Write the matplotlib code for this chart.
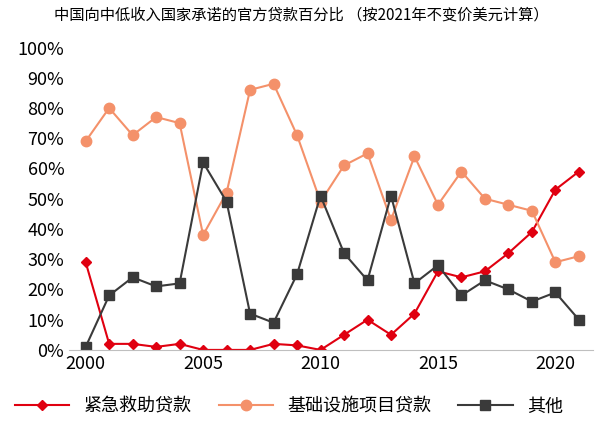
import matplotlib
matplotlib.use('Agg')
import matplotlib.pyplot as plt
from matplotlib.ticker import FuncFormatter

plt.rcParams['font.family'] = ['Noto Sans CJK SC', 'DejaVu Sans']

years = list(range(2000, 2022))
emergency = [29, 2, 2, 1, 2, 0, 0, 0, 2, 1.5, 0, 5, 10, 5, 12, 26, 24, 26, 32, 39, 53, 59]
infra = [69, 80, 71, 77, 75, 38, 52, 86, 88, 71, 49, 61, 65, 43, 64, 48, 59, 50, 48, 46, 29, 31]
other = [1, 18, 24, 21, 22, 62, 49, 12, 9, 25, 51, 32, 23, 51, 22, 28, 18, 23, 20, 16, 19, 10]

fig = plt.figure(figsize=(6.02, 4.32), dpi=100)
ax = fig.add_axes([0.115, 0.19, 0.87, 0.70])

ax.plot(years, emergency, color='#E00010', marker='D', markersize=5.5, lw=1.5, label='紧急救助贷款')
ax.plot(years, infra, color='#F4916A', marker='o', markersize=7.5, lw=1.5, label='基础设施项目贷款')
ax.plot(years, other, color='#3A3A3A', marker='s', markersize=7.5, lw=1.5, label='其他')

ax.set_ylim(0, 100)
ax.set_yticks(range(0, 101, 10))
ax.yaxis.set_major_formatter(FuncFormatter(lambda v, p: f'{int(v)}%'))
ax.set_xlim(1999.3, 2021.6)
ax.set_xticks([2000, 2005, 2010, 2015, 2020])
ax.tick_params(labelsize=13, length=0)
for s in ['top', 'right', 'left']:
    ax.spines[s].set_visible(False)
ax.spines['bottom'].set_color('#BFBFBF')

fig.text(0.5, 0.965, '中国向中低收入国家承诺的官方贷款百分比 （按2021年不变价美元计算）',
         ha='center', va='center', fontsize=11)
fig.legend(loc='lower center', ncol=3, frameon=False, fontsize=13,
           bbox_to_anchor=(0.48, 0.0), handlelength=3, columnspacing=1.5)

fig.savefig('out.png', dpi=100)
